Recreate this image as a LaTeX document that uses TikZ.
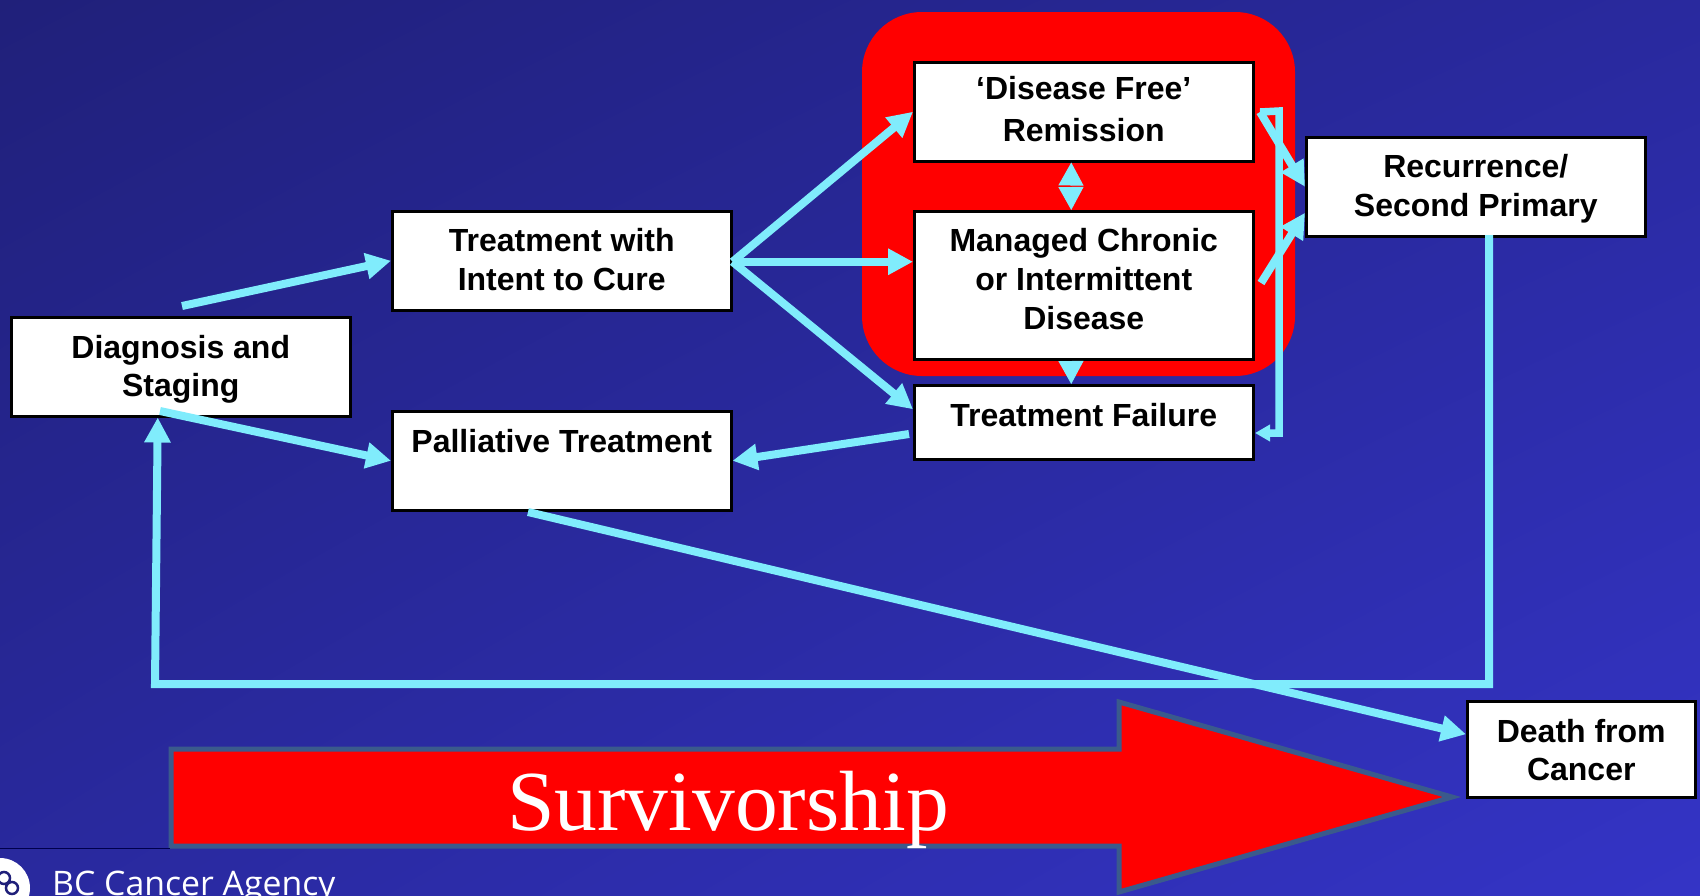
\documentclass[tikz,border=0pt]{standalone}
\usepackage{fontspec}
\setmainfont{Liberation Sans}
\newfontfamily\serifface{Liberation Serif}
\newfontfamily\agencyface{Open Sans}
\usetikzlibrary{arrows.meta,shadings}
\definecolor{bgdark}{RGB}{32,32,122}
\definecolor{bgmid}{RGB}{41,41,158}
\definecolor{bglight}{RGB}{52,52,198}
\definecolor{flowblue}{RGB}{128,236,252}
\definecolor{rimblue}{RGB}{58,90,140}

\tikzset{
  box/.style={draw=black,fill=white,line width=2.5pt,font=\fontsize{32}{39}\selectfont\bfseries,align=center,anchor=north west,inner sep=0pt,minimum width=339pt,minimum height=99pt},
  flow/.style={draw=flowblue,line width=8pt,-{Triangle[length=25pt,width=25pt]}},
  thin flow/.style={draw=flowblue,line width=7.5pt,-{Triangle[length=15pt,width=16pt]}},
  short flow/.style={draw=flowblue,line width=1pt,-{Triangle[length=23pt,width=25pt]}}
}

\begin{document}
\begin{tikzpicture}[x=1pt,y=-1pt]
\useasboundingbox (0,0) rectangle (1700,895);
\shade[upper left=bgdark,upper right=bgmid,lower left=bgmid,lower right=bglight] (0,0) rectangle (1700,895);

% red block behind the middle column
\fill[red,rounded corners=60pt] (862,12) rectangle (1295,376);

% big arrow
\draw[draw=rimblue,fill=red,line width=5pt,miter limit=20] (171,749) -- (1119,749) -- (1119,702) -- (1452,797) -- (1119,892) -- (1119,846) -- (171,846) -- cycle;
\node (survivorship) at (728,810) {\serifface\fontsize{85.5}{86}\selectfont\textcolor{white}{Survivorship}};

% boxes
\node[box] (diagnosis) at (10,316) {\rule{0pt}{28pt}Diagnosis and\\[-1pt]Staging};
\node[box] (cure) at (391,210) {Treatment with\\Intent to Cure\\[-37pt]\mbox{}};
\node[box] (palliative) at (391,410) {Palliative Treatment\\[1pt]\mbox{}};
\node[box,font=\fontsize{32}{42}\selectfont\bfseries] (remission) at (913,61) {‘Disease Free’\\Remission\\[-36pt]\mbox{}};
\node[box,minimum height=148pt] (managed) at (913,210) {Managed Chronic\\or Intermittent\\Disease\\[-26pt]\mbox{}};
\node[box,minimum height=74pt] (failure) at (913,384) {Treatment Failure\\[-24pt]\mbox{}};
\node[box] (recurrence) at (1305,136) {\rule{0pt}{27.5pt}Recurrence/\\Second Primary};
\node[box,minimum width=228pt,minimum height=96pt,font=\fontsize{32}{38}\selectfont\bfseries] (death) at (1466,700) {\rule{0pt}{25.5pt}Death from\\Cancer};

% free ends
\coordinate (dxup) at (182,306);
\coordinate (dxdown) at (160,411);
\coordinate (cureout) at ([yshift=-1pt]cure.east);
\coordinate (remright) at (1260,112);
\coordinate (manright) at (1261,283);
\coordinate (failleft) at (909,434);
\coordinate (failright) at (1255,433);
\coordinate (palbottom) at (528,512);
\coordinate (recbottom) at (1489,235);
\coordinate (corner1) at (1489,684);
\coordinate (corner2) at (155,684);
\coordinate (cornertop) at (1279,111);
\coordinate (cornerlow) at (1279,433);
\coordinate (gapup) at (1071,184);
\coordinate (gapdown) at (1071,187);
\coordinate (failtop) at (1071,362);

% arrows
\draw[flow] (dxup) -- (cure.west);
\draw[flow] (dxdown) -- (palliative.west);
\draw[flow] (cureout) -- (remission.west);
\draw[flow] (cureout) -- (managed.west |- cureout);
\draw[flow] (cureout) -- ([yshift=13pt]failure.west);
\draw[flow] (failleft) -- (palliative.east);
\draw[flow] (palbottom) -- ([yshift=15pt]death.west);
\draw[flow] (recbottom) -- (corner1) -- (corner2) -- ([xshift=-23pt]diagnosis.south);
\draw[flow] (remright) -- (recurrence.west);
\draw[flow] (manright) -- ([yshift=-26pt]recurrence.west);
\draw[thin flow] (remright) -- (cornertop) -- (cornerlow) -- (failright);

% heads between the middle boxes
\draw[short flow] (gapup) -- ([xshift=-12.5pt]remission.south);
\draw[short flow] (gapdown) -- ([xshift=-12.5pt]managed.north);
\draw[short flow] (failtop) -- ([xshift=-12.5pt]failure.north);

% footer
\draw[line width=1pt,black!70!blue] (0,848) -- (170,848);
\fill[white] (0,888) circle (30pt);
\draw[bgdark,line width=2.5pt] (4,878) circle (6pt) (12,888) circle (6pt);
\node[anchor=base west,inner sep=0pt,text=white] (agency) at (52,895) {\agencyface\fontsize{33.8}{34}\selectfont BC Cancer Agency};
\end{tikzpicture}
\end{document}
